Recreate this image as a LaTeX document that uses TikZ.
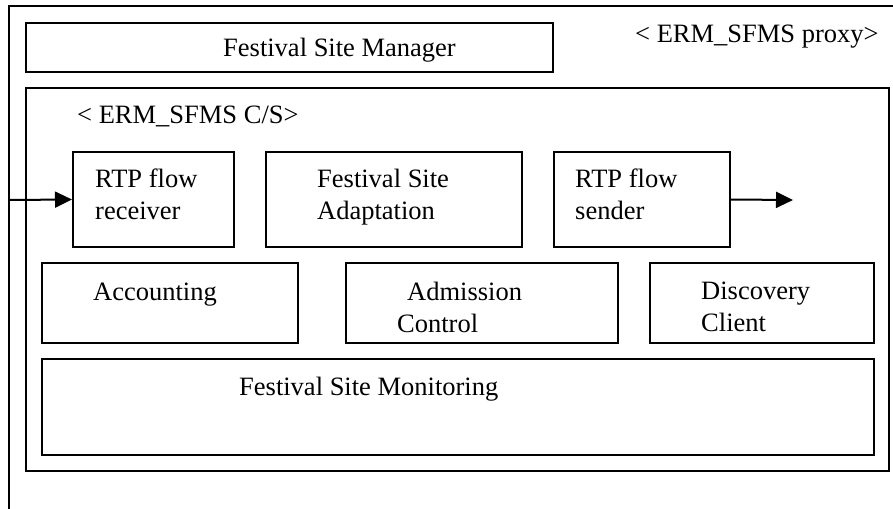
\documentclass[tikz,border=0pt]{standalone}
\usepackage{fontspec}
\setmainfont{Liberation Serif}
\usetikzlibrary{arrows.meta}
\begin{document}
\begin{tikzpicture}[x=1pt,y=-1pt,
  box/.style={draw, line width=2pt, inner sep=0pt},
  txt/.style={inner sep=0pt, align=left, font=\fontsize{26.5}{32}\selectfont},
  oneline/.style={txt, anchor=base west},
  twoline/.style={txt, anchor=north west},
  flow/.style={line width=2pt, -{Triangle[length=17pt,width=16pt]}}]
\useasboundingbox (0,0) rectangle (893,508);
\clip (0,0) rectangle (893,508);

% proxy frame, running on past the right and bottom edges
\coordinate (pxbl) at (9,530);
\coordinate (pxtl) at (9,6);
\coordinate (pxtr) at (920,6);
\draw[line width=2pt] (pxbl) -- (pxtl) -- (pxtr);

% boxes, given by centre and size
\node[box, minimum width=527pt, minimum height=49pt] (mgr)   at (289.5,47.5) {};
\node[box, minimum width=863pt, minimum height=383pt] (cs)   at (457.5,279.5) {};
\node[box, minimum width=161pt, minimum height=95pt]  (recv) at (153.5,199.5) {};
\node[box, minimum width=256pt, minimum height=95pt]  (adapt) at (394,199.5) {};
\node[box, minimum width=176pt, minimum height=95pt]  (send) at (642,199.5) {};
\node[box, minimum width=256pt, minimum height=80pt]  (acct) at (170,303) {};
\node[box, minimum width=272pt, minimum height=80pt]  (adm)  at (482,303) {};
\node[box, minimum width=224pt, minimum height=80pt]  (disc) at (762,303) {};
\node[box, minimum width=832pt, minimum height=96pt]  (mon)  at (458,407) {};

% labels
\node[oneline] (mgrt)   at (223,57)  {Festival Site Manager};
\node[oneline] (proxyt) at (635,43)  {< ERM\_SFMS proxy>};
\node[oneline] (cst)    at (77,123)  {< ERM\_SFMS C/S>};
\node[twoline] (recvt)  at (95,168.5)  {RTP flow\\receiver};
\node[twoline] (adaptt) at (317,168.5) {Festival Site\\Adaptation};
\node[twoline] (sendt)  at (575,168.5) {RTP flow\\sender};
\node[oneline] (acctt)  at (93,300)  {Accounting};
\node[twoline] (admt)   at (397,282) {\hspace*{10pt}Admission\\Control};
\node[twoline] (disct)  at (701,282) {Discovery\\Client};
\node[oneline] (mont)   at (239,395) {Festival Site Monitoring};

% RTP flows in and out
\coordinate (inflow) at (9,200);
\coordinate (outflow) at (793,200);
\draw[flow] (inflow) -- (recv.west);
\draw[flow] (send.east) -- (outflow);
\end{tikzpicture}
\end{document}
